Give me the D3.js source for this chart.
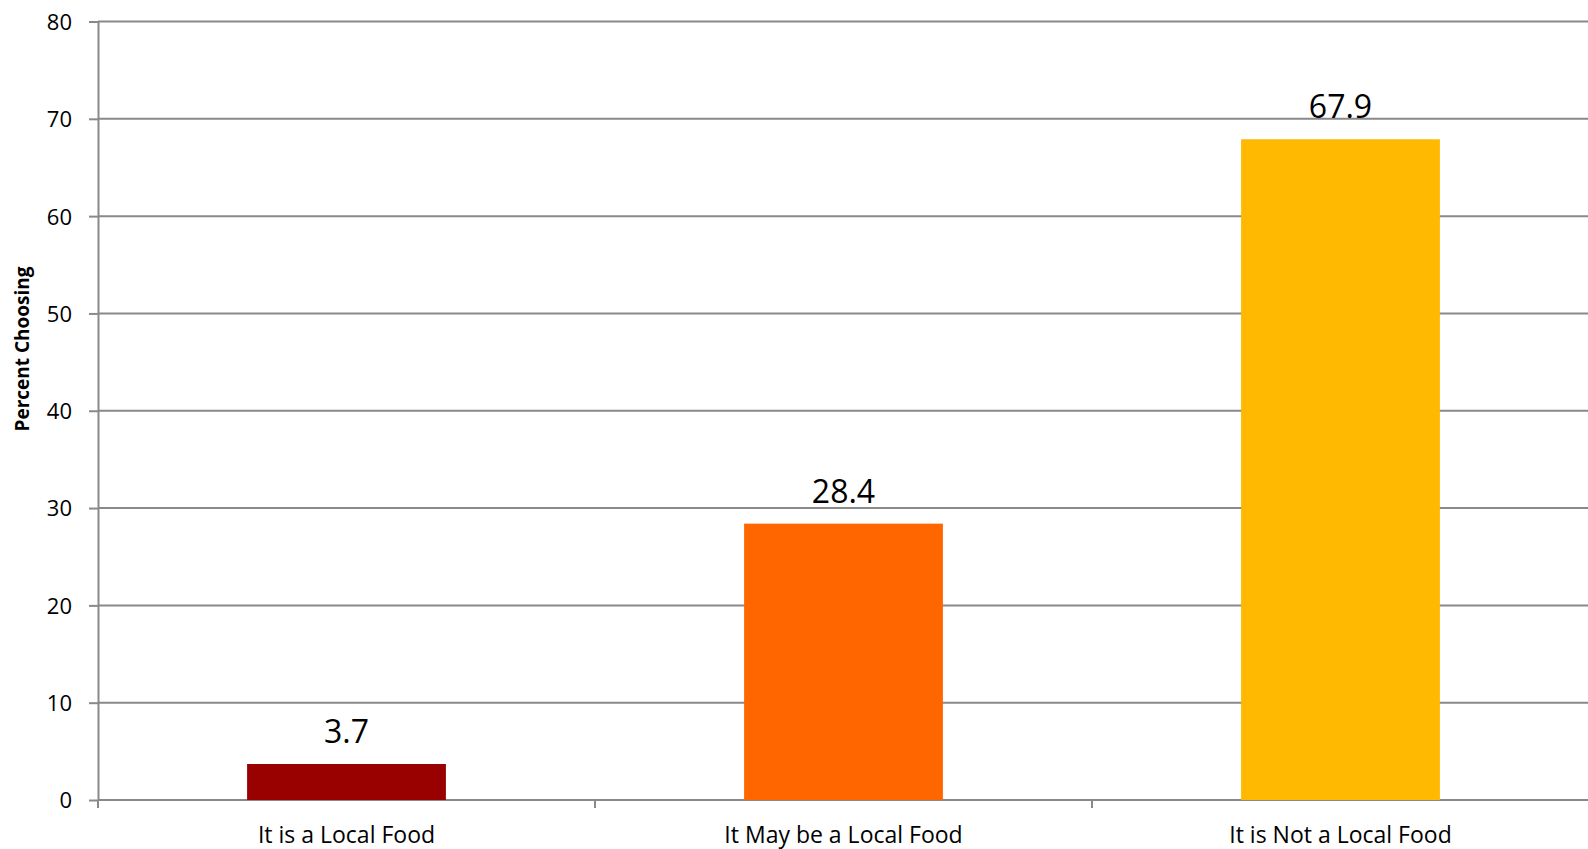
<!DOCTYPE html>
<html>
<head>
<meta charset="utf-8">
<script src="https://cdn.jsdelivr.net/npm/d3@7"></script>
<style>
  html, body { margin: 0; padding: 0; background: #ffffff; }
  svg { display: block; font-family: "Open Sans", "Liberation Sans", sans-serif; }
</style>
</head>
<body>
<svg id="chart" width="1588" height="849"></svg>
<script>
// Survey answers and the share of respondents choosing each
const categories = ["It is a Local Food", "It May be a Local Food", "It is Not a Local Food"];
const percentChoosing = [3.7, 28.4, 67.9];
const barColors = ["#990000", "#FF6600", "#FFB900"];
const yTicks = [0, 10, 20, 30, 40, 50, 60, 70, 80];
const yTitle = "Percent Choosing";

const svg = d3.select("#chart");
const width = 1588, height = 849;
const margin = { top: 21.5, right: -1, bottom: 49, left: 98 };
const plotBottom = height - margin.bottom;
const gridColor = "#898989";

const x = d3.scaleBand()
  .domain(categories)
  .range([margin.left, width - margin.right])
  .paddingInner(0.6)
  .paddingOuter(0.3);

const y = d3.scaleLinear()
  .domain([0, 80])
  .range([plotBottom, margin.top]);

// Horizontal gridlines
svg.append("g")
  .selectAll("line")
  .data(yTicks)
  .join("line")
  .attr("x1", margin.left)
  .attr("x2", width)
  .attr("y1", d => y(d))
  .attr("y2", d => y(d))
  .attr("stroke", gridColor)
  .attr("stroke-width", 2);

// Value axis
const yAxis = svg.append("g")
  .attr("transform", `translate(${margin.left},0)`)
  .call(d3.axisLeft(y).tickValues(yTicks).tickSize(9).tickPadding(17).tickSizeOuter(0));
yAxis.select(".domain").attr("stroke", gridColor).attr("stroke-width", 2);
yAxis.selectAll(".tick line").attr("stroke", gridColor).attr("stroke-width", 2);
yAxis.selectAll(".tick text")
  .attr("font-size", 22)
  .attr("fill", "#000")
  .attr("dy", "0.36em")
  .style("font-family", "'Open Sans', sans-serif");

// Category boundary ticks below the baseline
const boundaries = categories.map(c => x(c) - x.step() * x.paddingInner() / 2);
boundaries[0] = margin.left;
svg.append("g")
  .selectAll("line")
  .data(boundaries)
  .join("line")
  .attr("x1", d => d)
  .attr("x2", d => d)
  .attr("y1", plotBottom)
  .attr("y2", plotBottom + 8)
  .attr("stroke", gridColor)
  .attr("stroke-width", 2);

// Bars
svg.append("g")
  .selectAll("rect")
  .data(percentChoosing)
  .join("rect")
  .attr("x", (d, i) => x(categories[i]))
  .attr("width", x.bandwidth())
  .attr("y", d => y(d))
  .attr("height", d => y(0) - y(d))
  .attr("fill", (d, i) => barColors[i]);

// Value labels above bars
svg.append("g")
  .selectAll("text")
  .data(percentChoosing)
  .join("text")
  .attr("x", (d, i) => x(categories[i]) + x.bandwidth() / 2)
  .attr("y", d => y(d) - 21)
  .attr("text-anchor", "middle")
  .attr("font-size", 32)
  .attr("fill", "#000")
  .text(d => d.toFixed(1));

// Category labels
svg.append("g")
  .selectAll("text")
  .data(categories)
  .join("text")
  .attr("x", d => x(d) + x.bandwidth() / 2)
  .attr("y", 843)
  .attr("text-anchor", "middle")
  .attr("font-size", 23)
  .attr("fill", "#000")
  .text(d => d);

// Axis title
svg.append("text")
  .attr("transform", "translate(29,349) rotate(-90)")
  .attr("text-anchor", "middle")
  .attr("font-size", 19)
  .attr("font-weight", "bold")
  .attr("fill", "#000")
  .text(yTitle);
</script>
</body>
</html>
